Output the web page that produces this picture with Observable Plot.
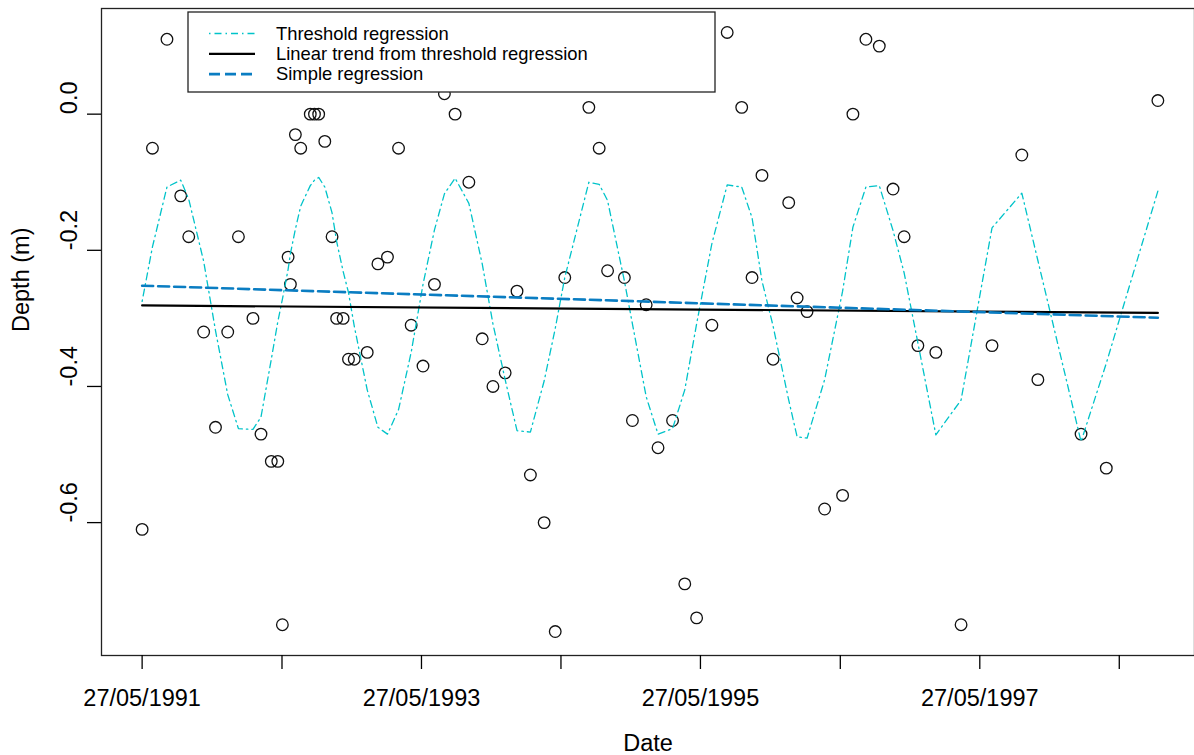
<!DOCTYPE html>
<html><head><meta charset="utf-8">
<script src="https://cdn.jsdelivr.net/npm/d3@7"></script>
<script src="https://cdn.jsdelivr.net/npm/@observablehq/plot@0.6"></script>
<style>
body{margin:0;background:#fff;}
#chart{position:relative;width:1194px;height:755px;overflow:hidden;background:#fff;}
#chart svg{overflow:hidden;}
</style></head><body><div id="chart"></div>
<script>
// Observation dates
const dates = ["1991-05-27","1991-06-23","1991-07-31","1991-09-05","1991-09-26","1991-11-04","1991-12-05","1992-01-06","1992-02-03","1992-03-12",
"1992-04-02","1992-04-29","1992-05-16","1992-05-28","1992-06-12","1992-06-18","1992-07-01","1992-07-15","1992-08-09","1992-08-20",
"1992-08-31","1992-09-16","1992-10-05","1992-10-17","1992-11-03","1992-11-17","1992-12-02","1993-01-05","1993-02-02","1993-02-27",
"1993-03-28","1993-04-30","1993-05-31","1993-06-30","1993-07-26","1993-08-23","1993-09-28","1993-11-02","1993-11-30","1994-01-01",
"1994-02-01","1994-03-08","1994-04-13","1994-05-12","1994-06-06","1994-08-08","1994-09-04","1994-09-26","1994-11-09","1994-11-30",
"1995-01-05","1995-02-05","1995-03-15","1995-04-16","1995-05-17","1995-06-26","1995-08-05","1995-09-12","1995-10-09","1995-11-04",
"1995-12-03","1996-01-13","1996-02-04","1996-03-01","1996-04-16","1996-06-02","1996-06-29","1996-08-02","1996-09-06","1996-10-12",
"1996-11-10","1996-12-16","1997-02-01","1997-04-08","1997-06-28","1997-09-14","1997-10-26","1998-02-16","1998-04-23","1998-09-05"];
// Observed depth (m)
const depth = [-0.61,-0.05,0.11,-0.12,-0.18,-0.32,-0.46,-0.32,-0.18,-0.30,
-0.47,-0.51,-0.51,-0.75,-0.21,-0.25,-0.03,-0.05,0.00,0.00,
0.00,-0.04,-0.18,-0.30,-0.30,-0.36,-0.36,-0.35,-0.22,-0.21,
-0.05,-0.31,-0.37,-0.25,0.03,0.00,-0.10,-0.33,-0.40,-0.38,
-0.26,-0.53,-0.60,-0.76,-0.24,0.01,-0.05,-0.23,-0.24,-0.45,
-0.28,-0.49,-0.45,-0.69,-0.74,-0.31,0.12,0.01,-0.24,-0.09,
-0.36,-0.13,-0.27,-0.29,-0.58,-0.56,0.00,0.11,0.10,-0.11,
-0.18,-0.34,-0.35,-0.75,-0.34,-0.06,-0.39,-0.47,-0.52,0.02];
// Fitted values of the threshold regression at each date
const thresholdFit = [-0.275,-0.195,-0.107,-0.097,-0.125,-0.216,-0.318,-0.412,-0.462,-0.463,
-0.445,-0.360,-0.305,-0.272,-0.228,-0.205,-0.169,-0.135,-0.105,-0.097,
-0.093,-0.107,-0.145,-0.187,-0.231,-0.262,-0.311,-0.405,-0.460,-0.470,
-0.434,-0.350,-0.250,-0.170,-0.117,-0.094,-0.131,-0.220,-0.308,-0.390,
-0.465,-0.467,-0.392,-0.315,-0.240,-0.100,-0.103,-0.127,-0.245,-0.308,
-0.415,-0.470,-0.462,-0.405,-0.308,-0.190,-0.104,-0.107,-0.152,-0.245,
-0.311,-0.420,-0.474,-0.476,-0.390,-0.260,-0.166,-0.107,-0.105,-0.171,
-0.233,-0.336,-0.471,-0.420,-0.167,-0.116,-0.215,-0.481,-0.366,-0.113];
// Linear trend from threshold regression, at first and last date
const trendValues = [-0.281, -0.292];
// Simple regression, at first and last date
const simpleValues = [-0.252, -0.299];
// Axis ticks
const xTickDates = ["1991-05-27","1992-05-27","1993-05-27","1994-05-27","1995-05-27","1996-05-27","1997-05-27","1998-05-27"];
const xTickLabels = ["27/05/1991","","27/05/1993","","27/05/1995","","27/05/1997",""];
const yTicks = [0, -0.2, -0.4, -0.6];
const legendLabels = ["Threshold regression","Linear trend from threshold regression","Simple regression"];

const cyan = "#00c3c9", blue = "#0a7dc2";
const font = "'Liberation Sans', Arial, Helvetica, sans-serif";
const parse = d3.utcParse("%Y-%m-%d");
const obs = dates.map((d, i) => ({date: parse(d), depth: depth[i], fit: thresholdFit[i]}));
const [d0, d1] = d3.extent(obs, d => d.date);
const pad = (d1 - d0) * 0.04;
const xDomain = [new Date(+d0 - pad), new Date(+d1 + pad)];
const [v0, v1] = d3.extent(depth);
const vp = (v1 - v0) * 0.04;
const yDomain = [v0 - vp, v1 + vp];
const trend = [{date: d0, v: trendValues[0]}, {date: d1, v: trendValues[1]}];
const simple = [{date: d0, v: simpleValues[0]}, {date: d1, v: simpleValues[1]}];
const ticksX = xTickDates.map(parse);
const labelOf = new Map(ticksX.map((t, i) => [+t, xTickLabels[i]]));

const chart = Plot.plot({
  width: 1194, height: 755,
  marginLeft: 101, marginTop: 8, marginBottom: 100, marginRight: 0,
  style: {fontFamily: font, background: "white", overflow: "hidden"},
  x: {type: "utc", domain: xDomain, range: [101, 1198]},
  y: {domain: yDomain, range: [655, 8]},
  marks: [
    Plot.dot(obs, {x: "date", y: "depth", r: 5.8, stroke: "#111", strokeWidth: 1.3, fill: "none"}),
    Plot.line(obs, {x: "date", y: "fit", stroke: cyan, strokeWidth: 1.3, strokeDasharray: "1.5,4,7,4"}),
    Plot.line(trend, {x: "date", y: "v", stroke: "black", strokeWidth: 2.2}),
    Plot.line(simple, {x: "date", y: "v", stroke: blue, strokeWidth: 2.6, strokeDasharray: "11,5"}),
    Plot.frame({stroke: "#222", strokeWidth: 1.3}),
    Plot.axisX(ticksX, {anchor: "bottom", tickSize: 14, tickPadding: 20, strokeWidth: 1.3, fontSize: 23.5,
      tickFormat: t => labelOf.get(+t), label: null}),
    Plot.axisY(yTicks, {anchor: "left", tickSize: 14, strokeWidth: 1.3, text: null, label: null, tickFormat: () => ""}),
    Plot.text(yTicks, {y: d => d, frameAnchor: "left", dx: -25, rotate: -90, lineAnchor: "bottom",
      text: d => d.toFixed(1), fontSize: 23.5, fill: "black"}),
    Plot.text(["Date"], {frameAnchor: "bottom", dy: 95, lineAnchor: "bottom", fontSize: 23.5, fill: "black"}),
    Plot.text(["Depth (m)"], {frameAnchor: "left", dx: -73, rotate: -90, lineAnchor: "bottom", fontSize: 23.5, fill: "black"})
  ]
});
document.getElementById("chart").appendChild(chart);

// Legend (drawn over the points with a white background, as in the original)
const svg = d3.select(chart);
const lg = svg.append("g").attr("font-family", font).attr("font-size", 18.4).attr("text-anchor", "start");
lg.append("rect").attr("x", 188).attr("y", 12).attr("width", 527).attr("height", 80)
  .attr("fill", "white").attr("stroke", "#222").attr("stroke-width", 1.3);
const styles = [
  {stroke: cyan, w: 1.6, dash: "1.5,4,7,4"},
  {stroke: "black", w: 2.2, dash: null},
  {stroke: blue, w: 2.6, dash: "11,5"}
];
legendLabels.forEach((lab, i) => {
  const cy = 33.5 + i * 20.3;
  lg.append("line").attr("x1", 209).attr("x2", 255).attr("y1", cy).attr("y2", cy)
    .attr("stroke", styles[i].stroke).attr("stroke-width", styles[i].w)
    .attr("stroke-dasharray", styles[i].dash);
  lg.append("text").attr("x", 276).attr("y", cy).attr("dy", "0.34em").attr("fill", "black")
    .attr("text-anchor", "start").text(lab);
});
</script></body></html>
